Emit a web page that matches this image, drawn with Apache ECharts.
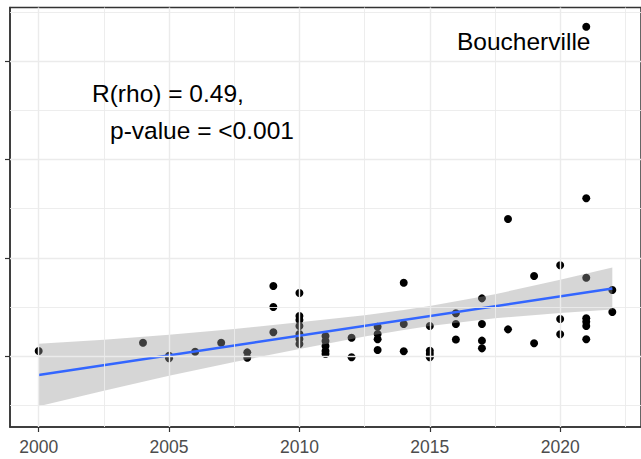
<!DOCTYPE html>
<html>
<head>
<meta charset="utf-8">
<script src="https://cdn.jsdelivr.net/npm/echarts@6/dist/echarts.min.js"></script>
<style>
html,body{margin:0;padding:0;background:#fff;}
#main{width:641px;height:459px;}
</style>
</head>
<body>
<div id="main"></div>
<script>
// points (year, value)
var pointYears = [2000, 2004, 2005, 2005, 2006, 2007, 2008, 2008,
    2009, 2009, 2009,
    2010, 2010, 2010, 2010, 2010, 2010, 2010,
    2011, 2011, 2011, 2011, 2011,
    2012, 2012,
    2013, 2013, 2013, 2013,
    2014, 2014, 2014,
    2015, 2015, 2015, 2015,
    2016, 2016, 2016,
    2017, 2017, 2017, 2017,
    2018, 2018,
    2019, 2019,
    2020, 2020, 2020,
    2021, 2021, 2021, 2021, 2021, 2021, 2021,
    2022, 2022];
var pointValues = [10.54, 11.38, 10.05, 9.8, 10.47, 11.38, 10.4, 9.85,
    17.14, 15.01, 12.44,
    16.43, 14.1, 13.69, 13.08, 12.27, 11.76, 11.25,
    12.06, 11.55, 11.05, 10.54, 10.23,
    11.89, 9.9,
    13.01, 12.27, 11.73, 10.64,
    17.48, 13.28, 10.51,
    13.08, 10.57, 10.23, 9.9,
    14.37, 13.28, 11.7,
    15.89, 13.28, 11.59, 10.81,
    23.95, 12.74,
    18.16, 11.32,
    19.25, 13.79, 12.24,
    43.5, 26.06, 17.99, 13.86, 13.52, 13.08, 11.73,
    16.74, 14.5];

// fitted line and its confidence band
var fitYears = [2000, 2022];
var fitValues = [8.10, 16.89];
var bandYears = [2000, 2002.5, 2005, 2007.5, 2010, 2012.5, 2014, 2015, 2017.5, 2020, 2022];
var bandLow  = [4.92, 6.51, 8.02, 9.42, 10.75, 12.02, 12.67, 13.07, 13.87, 14.41, 14.76];
var bandHigh = [11.28, 11.69, 12.18, 12.78, 13.45, 14.16, 14.71, 15.11, 16.31, 17.77, 19.02];

// axes
var xTicks = [2000, 2005, 2010, 2015, 2020];
var xMinor = [2002.5, 2007.5, 2012.5, 2017.5, 2022.5];
var yTicks = [10, 20, 30, 40];
var yMinor = [5, 15, 25, 35, 45];

var statLines = ['R(rho) = 0.49,', 'p-value = <0.001'];
var siteName = 'Boucherville';

var chart = echarts.init(document.getElementById('main'), null, {renderer: 'svg'});

var gridData = [];
xTicks.forEach(function(v){ gridData.push({xAxis: v, lineStyle: {width: 1.4}}); });
xMinor.forEach(function(v){ gridData.push({xAxis: v, lineStyle: {width: 0.9}}); });
yTicks.forEach(function(v){ gridData.push({yAxis: v, lineStyle: {width: 1.4}}); });
yMinor.forEach(function(v){ gridData.push({yAxis: v, lineStyle: {width: 0.9}}); });

var font = '"Liberation Sans", Arial, sans-serif';

chart.setOption({
    animation: false,
    backgroundColor: '#fff',
    grid: {
        left: 10, right: -5.5, top: 7.5, bottom: 32,
        show: true, borderColor: '#333', borderWidth: 1.5, backgroundColor: '#fff'
    },
    xAxis: {
        type: 'value', min: 1998.9, max: 2023.1,
        axisLine: {show: true, lineStyle: {color: '#333', width: 1.5}},
        axisTick: {show: true, length: 5, customValues: xTicks, lineStyle: {color: '#333', width: 1.2}},
        axisLabel: {customValues: xTicks, color: '#4d4d4d', fontSize: 17.5, fontFamily: font, margin: 11,
            formatter: function(v){ return String(v); }},
        splitLine: {show: false}
    },
    yAxis: {
        type: 'value', min: 2.815, max: 45.45,
        axisLine: {show: true, lineStyle: {color: '#333', width: 1.5}},
        axisTick: {show: true, length: 5, customValues: yTicks, lineStyle: {color: '#333', width: 1.2}},
        axisLabel: {show: false},
        splitLine: {show: false}
    },
    graphic: [
        {type: 'text', x: 457, y: 41, z: 10,
         style: {text: siteName, font: '24.5px ' + font, fill: '#000', verticalAlign: 'middle'}},
        {type: 'text', x: 92, y: 93.5, z: 10,
         style: {text: statLines[0], font: '24.5px ' + font, fill: '#000', verticalAlign: 'middle'}},
        {type: 'text', x: 110, y: 130.5, z: 10,
         style: {text: statLines[1], font: '24.5px ' + font, fill: '#000', verticalAlign: 'middle'}}
    ],
    series: [
        {
            type: 'line', data: [], z: 1, silent: true,
            markLine: {
                silent: true, symbol: 'none', label: {show: false},
                lineStyle: {color: '#ebebeb', type: 'solid'},
                emphasis: {disabled: true},
                data: gridData
            }
        },
        {
            type: 'scatter', z: 2, silent: true,
            symbolSize: 8,
            itemStyle: {color: '#000', opacity: 1},
            data: pointYears.map(function(y, i){ return [y, pointValues[i]]; })
        },
        {
            type: 'custom', z: 3, silent: true,
            data: bandYears.map(function(y, i){ return [y, bandLow[i], bandHigh[i]]; }),
            encode: {x: 0, y: [1, 2]},
            renderItem: function(params, api){
                if (params.dataIndex !== 0) return;
                var pts = [];
                for (var i = 0; i < bandYears.length; i++) pts.push(api.coord([bandYears[i], bandHigh[i]]));
                for (var j = bandYears.length - 1; j >= 0; j--) pts.push(api.coord([bandYears[j], bandLow[j]]));
                return {type: 'polygon', shape: {points: pts}, style: {fill: 'rgba(153,153,153,0.4)'}};
            }
        },
        {
            type: 'line', z: 4, silent: true,
            showSymbol: false, symbol: 'none',
            lineStyle: {color: '#3366ff', width: 2.5},
            data: fitYears.map(function(y, i){ return [y, fitValues[i]]; })
        }
    ]
});
</script>
</body>
</html>
